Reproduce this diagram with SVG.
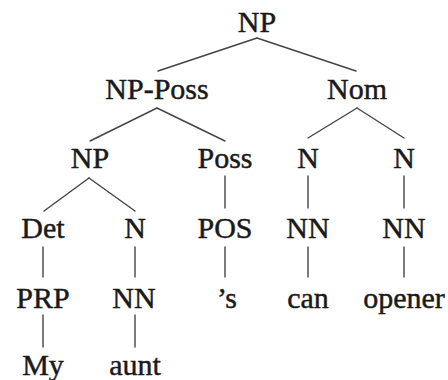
<svg xmlns="http://www.w3.org/2000/svg" width="448" height="380" viewBox="0 0 448 380">
<style>
text{font-family:"Liberation Serif","Times New Roman",serif;font-size:30px;fill:#1a1a1a;stroke:#1a1a1a;stroke-width:0.45;text-anchor:middle}
line{stroke:#444;stroke-width:1.4;stroke-linecap:round}
</style>
<rect width="448" height="380" fill="#fff"/>
<g id="connectors">
<line x1="257" y1="38" x2="158" y2="71"/>
<line x1="257" y1="38" x2="356" y2="71"/>
<line x1="157" y1="108" x2="90" y2="141"/>
<line x1="157" y1="108" x2="225" y2="141"/>
<line x1="357" y1="108" x2="308" y2="138"/>
<line x1="357" y1="108" x2="404" y2="138"/>
<line x1="225" y1="176" x2="225" y2="208"/>
<line x1="308" y1="176" x2="308" y2="208"/>
<line x1="404" y1="176" x2="404" y2="208"/>
<line x1="89" y1="178" x2="44" y2="211"/>
<line x1="89" y1="178" x2="135" y2="211"/>
<line x1="43" y1="247" x2="43" y2="277"/>
<line x1="135" y1="247" x2="135" y2="277"/>
<line x1="225" y1="247" x2="225" y2="277"/>
<line x1="308" y1="247" x2="308" y2="277"/>
<line x1="404" y1="247" x2="404" y2="277"/>
<line x1="43" y1="315" x2="43" y2="347"/>
<line x1="135" y1="315" x2="135" y2="347"/>
</g>
<g id="n-np-root"><text x="257" y="32">NP</text></g>
<g id="n-np-poss"><text x="157" y="99">NP-Poss</text></g>
<g id="n-nom"><text x="357" y="99">Nom</text></g>
<g id="n-np"><text x="90" y="168">NP</text></g>
<g id="n-poss"><text x="225" y="168">Poss</text></g>
<g id="n-n1"><text x="308" y="168">N</text></g>
<g id="n-n2"><text x="404" y="168">N</text></g>
<g id="n-det"><text x="43" y="238">Det</text></g>
<g id="n-n3"><text x="135" y="238">N</text></g>
<g id="n-pos"><text x="225" y="238">POS</text></g>
<g id="n-nn1"><text x="308" y="238">NN</text></g>
<g id="n-nn2"><text x="404" y="238">NN</text></g>
<g id="n-prp"><text x="43" y="308">PRP</text></g>
<g id="n-nn3"><text x="134" y="308">NN</text></g>
<g id="n-s"><text x="227" y="308">’s</text></g>
<g id="n-can"><text x="308" y="308">can</text></g>
<g id="n-opener"><text x="404" y="308">opener</text></g>
<g id="n-my"><text x="43" y="375">My</text></g>
<g id="n-aunt"><text x="135" y="375">aunt</text></g>
</svg>
